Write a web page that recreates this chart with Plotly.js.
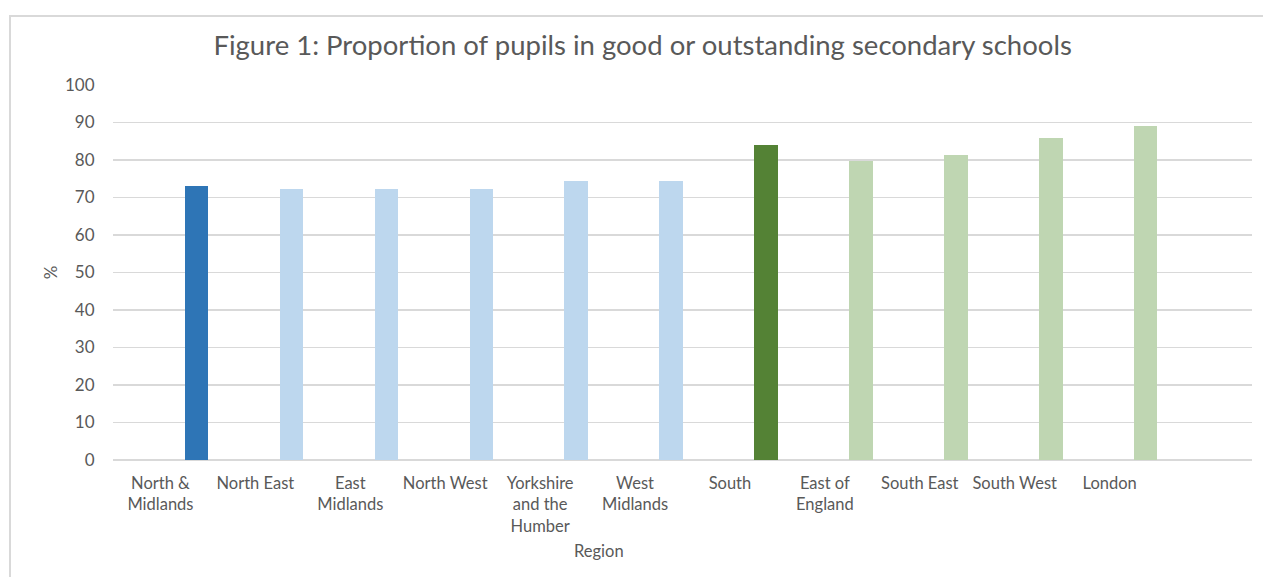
<!DOCTYPE html>
<html>
<head>
<meta charset="utf-8">
<script src="https://cdn.plot.ly/plotly-3.0.1.min.js"></script>
<style>
  html, body { margin: 0; padding: 0; background: #fff; overflow: hidden; }
  #wrap { position: relative; width: 1263px; height: 577px; }
  #chart { position: absolute; left: 0; top: 0; width: 1263px; height: 577px; }
  #frame { position: absolute; left: 9px; top: 15px; width: 1300px; height: 600px;
           border-left: 2px solid #d9d9d9; border-top: 2px solid #d9d9d9; pointer-events: none; }
</style>
</head>
<body>
<div id="wrap">
  <div id="chart"></div>
  <div id="frame"></div>
</div>
<script>
// Categories (12th slot is an empty category, as in the original chart)
const categories = [
  "North &<br>Midlands", "North East", "East<br>Midlands", "North West",
  "Yorkshire<br>and the<br>Humber", "West<br>Midlands", "South",
  "East of<br>England", "South East", "South West", "London", " "
];
const values = [73.2, 72.4, 72.4, 72.4, 74.3, 74.3, 84.1, 79.7, 81.4, 86.0, 89.2, null];
const barColors = [
  "#2E75B6", "#BDD7EE", "#BDD7EE", "#BDD7EE", "#BDD7EE", "#BDD7EE",
  "#548235", "#BFD6B2", "#BFD6B2", "#BFD6B2", "#BFD6B2", "#BFD6B2"
];
const yTicks = [0, 10, 20, 30, 40, 50, 60, 70, 80, 90, 100];
const titleText = "Figure 1: Proportion of pupils in good or outstanding secondary schools";
const xTitle = "Region";
const yTitle = "%";

const FONT = "Lato, 'Open Sans', sans-serif";
const GREY = "#595959";

const trace = {
  type: "bar",
  x: categories,
  y: values,
  marker: { color: barColors, line: { width: 0 } },
  width: 0.248,
  offset: 0.256,
  hoverinfo: "x+y"
};

const layout = {
  width: 1263,
  height: 577,
  margin: { l: 113, r: 11, t: 85, b: 117, pad: 0 },
  paper_bgcolor: "#ffffff",
  plot_bgcolor: "#ffffff",
  showlegend: false,
  title: {
    text: titleText,
    font: { family: FONT, size: 27.5, color: GREY },
    x: 0.465, xref: "paper", xanchor: "center",
    y: 0.922, yref: "container", yanchor: "middle"
  },
  xaxis: {
    type: "category",
    range: [-0.5, 11.5],
    showgrid: false,
    showline: false,
    zeroline: false,
    ticks: "outside", ticklen: 8, tickcolor: "rgba(0,0,0,0)",
    tickangle: 0,
    tickfont: { family: FONT, size: 16.5, color: GREY },
    fixedrange: true
  },
  yaxis: {
    range: [0, 100],
    tickvals: yTicks,
    ticktext: yTicks.map(String),
    showgrid: true,
    gridcolor: "#d9d9d9",
    gridwidth: 1.5,
    zeroline: true,
    zerolinecolor: "#d9d9d9",
    zerolinewidth: 2,
    showline: false,
    ticks: "outside", ticklen: 14, tickcolor: "rgba(0,0,0,0)",
    tickfont: { family: FONT, size: 17, color: GREY },
    title: { text: yTitle, font: { family: FONT, size: 17, color: GREY }, standoff: 3 },
    fixedrange: true
  },
  annotations: [{
    text: xTitle,
    xref: "paper", yref: "paper",
    x: 0.427, y: -0.243,
    xanchor: "center", yanchor: "middle",
    showarrow: false,
    font: { family: FONT, size: 16.5, color: GREY }
  }],
  bargap: 0
};

Plotly.newPlot("chart", [trace], layout, { displayModeBar: false, staticPlot: true });
</script>
</body>
</html>
